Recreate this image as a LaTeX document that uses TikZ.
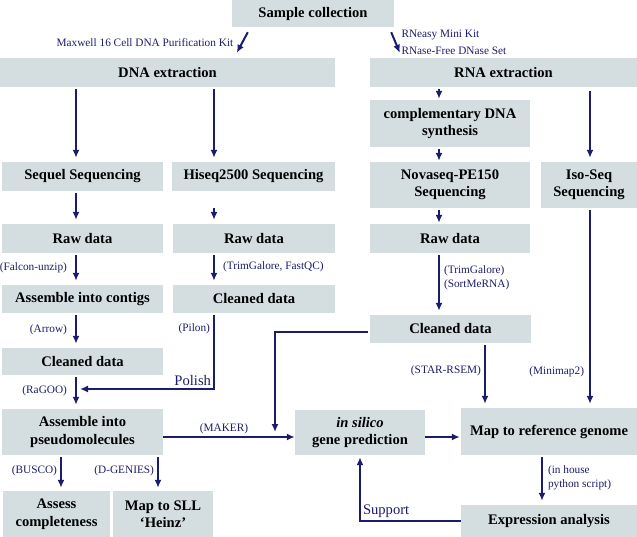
\documentclass[tikz,border=0pt]{standalone}
\usepackage{fontspec}
\setmainfont{Liberation Serif}
\usetikzlibrary{arrows.meta, calc}
\definecolor{boxgray}{RGB}{212,222,225}
\definecolor{navy}{RGB}{28,28,108}
\begin{document}
\begin{tikzpicture}[x=1pt, y=-1pt, >={Latex[length=8pt,width=7pt]},
    stage/.style={fill=boxgray, inner sep=0pt, align=center, font=\fontsize{14.6}{17.5}\selectfont\bfseries},
    flow/.style={->, navy, line width=2pt, shorten <=2pt, shorten >=4pt},
    tool/.style={text=navy, inner sep=0pt, align=left, font=\fontsize{11.3}{14}\selectfont},
    note/.style={text=navy, inner sep=2pt, font=\fontsize{14.6}{17.5}\selectfont}]
    \useasboundingbox (0,0) rectangle (637,537);
    \node[stage, minimum width=162pt, minimum height=27pt] (sample) at (313,13.5) {Sample collection};
    \node[stage, minimum width=335pt, minimum height=29pt] (dna) at (167.5,72.5) {DNA extraction};
    \node[stage, minimum width=267pt, minimum height=29pt] (rna) at (503.5,72.5) {RNA extraction};
    \node[stage, minimum width=161pt, minimum height=29pt] (sequel) at (82.5,176.5) {Sequel Sequencing};
    \node[stage, minimum width=163pt, minimum height=29pt] (hiseq) at (253.5,176.5) {Hiseq2500 Sequencing};
    \node[stage, minimum width=161pt, minimum height=29pt] (rawL) at (82.5,238.5) {Raw data};
    \node[stage, minimum width=162pt, minimum height=29pt] (rawM) at (254,238.5) {Raw data};
    \node[stage, minimum width=161pt, minimum height=28pt] (contigs) at (82.5,299) {Assemble into contigs};
    \node[stage, minimum width=162pt, minimum height=28pt] (cleanM) at (254,299) {Cleaned data};
    \node[stage, minimum width=161pt, minimum height=27pt] (cleanL) at (82.5,361.5) {Cleaned data};
    \node[stage, minimum width=161pt, minimum height=46pt] (pseudo) at (82.5,432) {Assemble into\\pseudomolecules};
    \node[stage, minimum width=107pt, minimum height=46pt] (assess) at (56.5,514) {Assess\\completeness};
    \node[stage, minimum width=100pt, minimum height=46pt] (sll) at (163,514) {Map to SLL\\‘Heinz’};
    \node[stage, minimum width=160pt, minimum height=47pt] (cdna) at (450,123.5) {complementary DNA\\synthesis};
    \node[stage, minimum width=160pt, minimum height=46pt] (nova) at (450,185) {Novaseq-PE150\\Sequencing};
    \node[stage, minimum width=96pt, minimum height=46pt] (iso) at (589,185) {Iso-Seq\\Sequencing};
    \node[stage, minimum width=160pt, minimum height=29pt] (rawR) at (450,238.5) {Raw data};
    \node[stage, minimum width=161pt, minimum height=28pt] (cleanR) at (450.5,329) {Cleaned data};
    \node[stage, minimum width=130pt, minimum height=45pt] (insilico) at (360,432.5) {\textit{in silico}\\gene prediction};
    \node[stage, minimum width=176pt, minimum height=47pt] (mapref) at (549,431.5) {Map to reference genome};
    \node[stage, minimum width=176pt, minimum height=32pt] (expr) at (549,521) {Expression analysis};
    \coordinate (colL) at (76,0);
    \coordinate (colM) at (214,0);
    \coordinate (colR) at (439,0);
    \coordinate (colI) at (590,0);
    \coordinate (colS) at (485,0);
    \coordinate (colE) at (542,0);
    \coordinate (colA) at (61,0);
    \coordinate (colH) at (158,0);
    \coordinate (colU) at (360,0);
    \coordinate (rowP) at (0,437);
    \coordinate (polishend) at (80,389);
    \coordinate (makerdrop) at (275,432);
    \draw[flow, shorten <=0pt, shorten >=0pt] ($(sample.south west)+(16,5)$) -- ($(dna.north west)+(237,-5)$) node[tool, midway, left=8pt] {Maxwell 16 Cell DNA Purification Kit};
    \draw[flow, shorten <=0pt, shorten >=0pt] ($(sample.south east)+(-3,5)$) -- ($(rna.north west)+(30,-5)$) node[tool, midway, right=5pt] {RNeasy Mini Kit\\[3pt]RNase-Free DNase Set};
    \draw[flow] (dna.south -| colL) -- (sequel.north -| colL);
    \draw[flow] (dna.south -| colM) -- (hiseq.north -| colM);
    \draw[flow] (sequel.south -| colL) -- (rawL.north -| colL);
    \draw[flow, shorten <=17pt] (hiseq.south -| colM) -- (rawM.north -| colM);
    \draw[flow] (rawL.south -| colL) -- (contigs.north -| colL) node[tool, pos=0.46, left=8pt] {(Falcon-unzip)};
    \draw[flow] (rawM.south -| colM) -- (cleanM.north -| colM) node[tool, pos=0.43, right=8pt] {(TrimGalore, FastQC)};
    \draw[flow] (contigs.south -| colL) -- (cleanL.north -| colL) node[tool, pos=0.47, left=8pt] {(Arrow)};
    \draw[flow] (cleanL.south -| colL) -- (pseudo.north -| colL) node[tool, pos=0.46, left=8pt] {(RaGOO)};
    \draw[flow, shorten >=0pt] (cleanM.south -| colM) |- (polishend) node[tool, pos=0.1, left=3pt] {(Pilon)} node[note, pos=0.5, above left] {Polish};
    \draw[flow, shorten <=0pt, shorten >=0pt] (pseudo.east |- rowP) -- (insilico.west |- rowP) node[tool, midway, above=2pt, xshift=-5pt] {(MAKER)};
    \draw[flow, shorten >=0pt] ([yshift=-3pt]cleanR.west) -| (makerdrop);
    \draw[flow, shorten <=0pt, shorten >=1pt] (insilico.east |- rowP) -- (mapref.west |- rowP);
    \draw[flow, shorten >=1pt] (rna.south -| colR) -- (cdna.north -| colR);
    \draw[flow, shorten >=1pt] (cdna.south -| colR) -- (nova.north -| colR);
    \draw[flow, shorten >=1pt] (nova.south -| colR) -- (rawR.north -| colR);
    \draw[flow] (rawR.south -| colR) -- (cleanR.north -| colR) node[tool, pos=0.4, right=4pt] {(TrimGalore)\\(SortMeRNA)};
    \draw[flow, shorten <=4pt] (rna.south -| colI) -- (iso.north -| colI);
    \draw[flow] (iso.south -| colI) -- (mapref.north -| colI) node[tool, pos=0.82, left=5pt] {(Minimap2)};
    \draw[flow] (cleanR.south -| colS) -- (mapref.north -| colS) node[tool, pos=0.43, left=3pt] {(STAR-RSEM)};
    \draw[flow] (mapref.south -| colE) -- (expr.north -| colE) node[tool, pos=0.45, right=5pt] {(in house\\python script)};
    \draw[flow, shorten <=0pt, shorten >=2pt] (expr.west) -| (insilico.south -| colU) node[note, pos=0.5, above right] {Support};
    \draw[flow, shorten >=3pt] (pseudo.south -| colA) -- (assess.north -| colA) node[tool, pos=0.45, left=3pt] {(BUSCO)};
    \draw[flow, shorten >=3pt] (pseudo.south -| colH) -- (sll.north -| colH) node[tool, pos=0.45, left=3pt] {(D-GENIES)};
\end{tikzpicture}
\end{document}
